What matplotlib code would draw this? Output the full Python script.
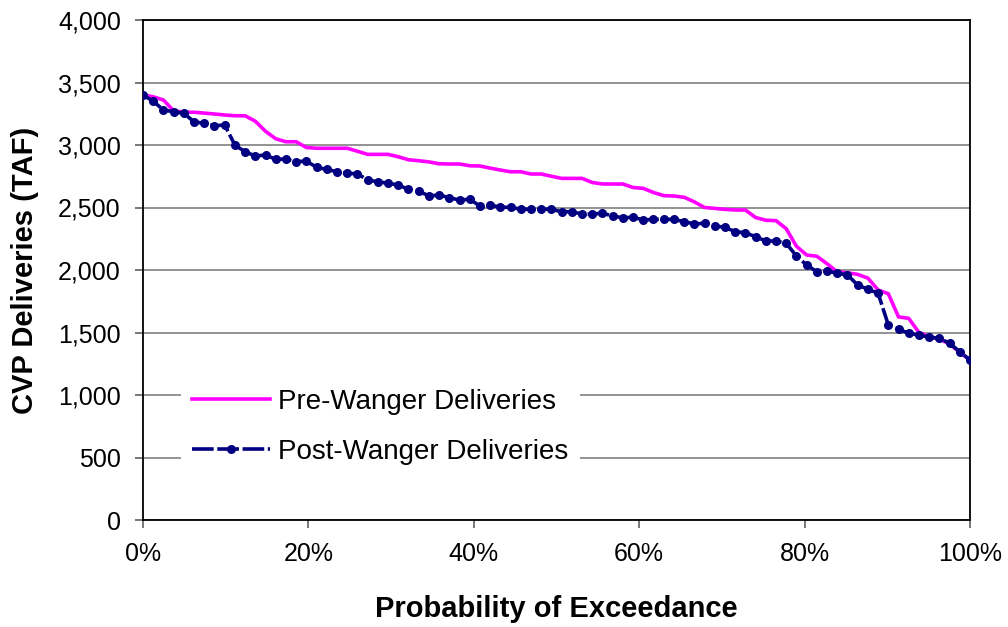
import numpy as np
import matplotlib
matplotlib.use('Agg')
import matplotlib.pyplot as plt
from matplotlib.ticker import FuncFormatter, MultipleLocator

plt.rcParams['font.family'] = ['Liberation Sans', 'DejaVu Sans']

# 82 years ranked, plotted as probability of exceedance
pre_wanger = [3400, 3386, 3360, 3274, 3262, 3262, 3255, 3248, 3240, 3234,
              3234, 3190, 3110, 3050, 3026, 3026, 2980, 2974, 2974, 2974,
              2974, 2950, 2925, 2925, 2925, 2906, 2882, 2874, 2865, 2850,
              2848, 2848, 2834, 2832, 2815, 2800, 2786, 2786, 2768, 2768,
              2750, 2733, 2733, 2733, 2700, 2688, 2688, 2688, 2660, 2653,
              2620, 2595, 2592, 2582, 2545, 2500, 2493, 2485, 2480, 2480,
              2420, 2398, 2395, 2330, 2190, 2120, 2110, 2050, 1985, 1978,
              1965, 1935, 1840, 1810, 1625, 1613, 1500, 1467, 1448, 1408,
              1341, 1280]
post_wanger = [3400, 3350, 3280, 3266, 3253, 3186, 3173, 3154, 3160, 3000,
               2946, 2912, 2920, 2885, 2888, 2866, 2872, 2821, 2805, 2786,
               2773, 2770, 2720, 2706, 2694, 2680, 2645, 2632, 2592, 2600,
               2578, 2560, 2566, 2512, 2520, 2502, 2502, 2486, 2486, 2486,
               2486, 2466, 2466, 2448, 2448, 2454, 2432, 2418, 2422, 2400,
               2405, 2405, 2405, 2386, 2368, 2374, 2352, 2342, 2306, 2298,
               2266, 2232, 2232, 2214, 2112, 2040, 1986, 1992, 1974, 1960,
               1880, 1846, 1814, 1560, 1526, 1494, 1480, 1462, 1454, 1414,
               1346, 1280]
prob = np.arange(len(post_wanger)) / (len(post_wanger) - 1)

fig = plt.figure(figsize=(10.08, 6.27), dpi=100)
ax = fig.add_axes([143 / 1008, 1 - 520 / 627, 827 / 1008, 500 / 627])

ax.plot(prob, pre_wanger, color='#FF00FF', lw=2.6, label='Pre-Wanger Deliveries', zorder=3)
ax.plot(prob, post_wanger, color='#000080', lw=2.6, linestyle=(0, (6, 1)),
        marker='o', markersize=6.5, markeredgewidth=0,
        label='Post-Wanger Deliveries', zorder=4)

ax.set_xlim(0, 1)
ax.set_ylim(0, 4000)
ax.xaxis.set_major_locator(MultipleLocator(0.2))
ax.yaxis.set_major_locator(MultipleLocator(500))
ax.xaxis.set_major_formatter(FuncFormatter(lambda v, p: f'{v * 100:.0f}%'))
ax.yaxis.set_major_formatter(FuncFormatter(lambda v, p: f'{v:,.0f}'))

ax.grid(axis='y', color='#808080', lw=1.2)
ax.set_axisbelow(True)
for s in ax.spines.values():
    s.set_color('black')
    s.set_linewidth(1.3)

ax.tick_params(axis='both', labelsize=18, direction='out', color='#606060',
               length=6, width=1.2)
ax.tick_params(axis='y', pad=10)
ax.tick_params(axis='x', pad=10)

ax.set_xlabel('Probability of Exceedance', fontsize=21, fontweight='bold')
ax.set_ylabel('CVP Deliveries (TAF)', fontsize=21, fontweight='bold')
ax.xaxis.set_label_coords(0.5, -0.15)
ax.yaxis.set_label_coords(-0.126, 0.5)

leg = ax.legend(loc='center left', bbox_to_anchor=((181 - 143) / 827, 1 - (427 - 20) / 500),
                fontsize=20, frameon=True, fancybox=False, edgecolor='none',
                facecolor='white', framealpha=1, numpoints=1,
                handlelength=2.8, handletextpad=0.3, labelspacing=0.85,
                borderpad=0.4, borderaxespad=0)

fig.savefig('out.png', dpi=100)
